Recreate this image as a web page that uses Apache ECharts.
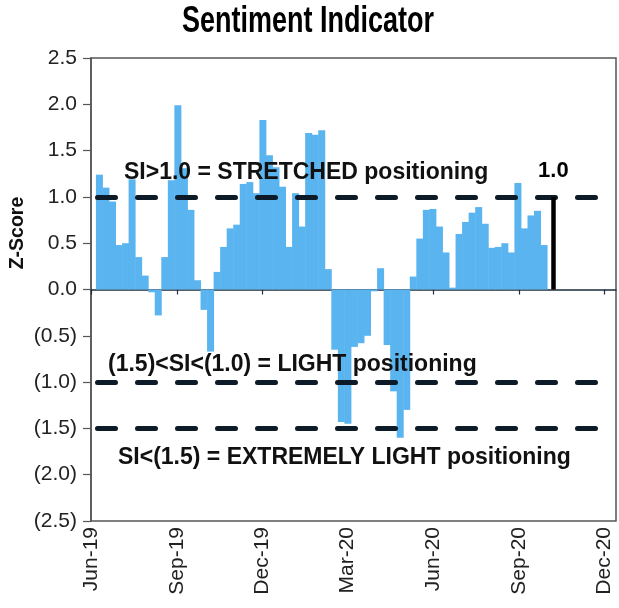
<!DOCTYPE html>
<html><head><meta charset="utf-8">
<script src="https://cdn.jsdelivr.net/npm/echarts@6/dist/echarts.min.js"></script>
<style>html,body{margin:0;padding:0;background:#fff}#c{width:619px;height:608px}</style>
</head><body><div id="c"></div>
<script>
// Weekly observation dates
const weekDates = [
  '2019-06-10','2019-06-17','2019-06-24','2019-07-01','2019-07-08','2019-07-15','2019-07-22','2019-07-29',
  '2019-08-05','2019-08-12','2019-08-19','2019-08-26','2019-09-02','2019-09-09','2019-09-16','2019-09-23',
  '2019-09-30','2019-10-07','2019-10-14','2019-10-21','2019-10-28','2019-11-04','2019-11-11','2019-11-18',
  '2019-11-25','2019-12-02','2019-12-09','2019-12-16','2019-12-23','2019-12-30','2020-01-06','2020-01-13',
  '2020-01-20','2020-01-27','2020-02-03','2020-02-10','2020-02-17','2020-02-24','2020-03-02','2020-03-09',
  '2020-03-16','2020-03-23','2020-03-30','2020-04-06','2020-04-13','2020-04-20','2020-04-27','2020-05-04',
  '2020-05-11','2020-05-18','2020-05-25','2020-06-01','2020-06-08','2020-06-15','2020-06-22','2020-06-29',
  '2020-07-06','2020-07-13','2020-07-20','2020-07-27','2020-08-03','2020-08-10','2020-08-17','2020-08-24',
  '2020-08-31','2020-09-07','2020-09-14','2020-09-21','2020-09-28'
];
// Sentiment indicator z-scores
const zScores = [
  1.24, 1.10, 0.95, 0.48, 0.50, 1.19, 0.35, 0.15,
  -0.03, -0.28, 0.35, 1.18, 1.99, 1.31, 0.86, 0.10,
  -0.22, -0.67, 0.19, 0.46, 0.66, 0.70, 1.14, 1.16,
  1.04, 1.83, 1.45, 1.32, 1.11, 0.46, 1.04, 0.68,
  1.69, 1.67, 1.72, 0.22, -0.65, -1.43, -1.45, -0.62,
  -0.58, -0.50, -0.02, 0.23, -0.60, -1.10, -1.60, -1.30,
  0.14, 0.55, 0.86, 0.87, 0.68, 0.40, 0.02, 0.60,
  0.73, 0.83, 0.89, 0.71, 0.45, 0.46, 0.50, 0.40,
  1.15, 0.66, 0.80, 0.85, 0.48
];
const tickDates = ['2019-06-01','2019-09-01','2019-12-01','2020-03-01','2020-06-01','2020-09-01','2020-12-01'];
const tickLabels = ['Jun-19','Sep-19','Dec-19','Mar-20','Jun-20','Sep-20','Dec-20'];
const xMin = '2019-06-01';
const xMax = '2020-12-14';
const thresholds = [1.0, -1.0, -1.5];
const latestDate = '2020-10-08';
const latestValue = 1.0;
const latestLabel = '1.0';
const bandNotes = ['SI>1.0 = STRETCHED positioning', '(1.5)<SI<(1.0) = LIGHT positioning', 'SI<(1.5) = EXTREMELY LIGHT positioning'];
const titleText = 'Sentiment Indicator';
const yName = 'Z-Score';

function parseLocal(s){ const p = s.split('-').map(Number); return Date.UTC(p[0], p[1]-1, p[2]); }
const tickTs = tickDates.map(parseLocal);
const seriesData = weekDates.map((d,i)=>[parseLocal(d), zScores[i]]);
const latestTs = parseLocal(latestDate);
const fmtY = v => { const a = Math.abs(v).toFixed(1); return v < -1e-9 ? '(' + a + ')' : a; };
const FONT = "'Liberation Sans', Arial, sans-serif";

const chart = echarts.init(document.getElementById('c'), null, {renderer:'canvas'});
chart.setOption({
  animation: false,
  backgroundColor: '#fff',
  grid: {left: 91, right: 3, top: 58, bottom: 87, show: true, borderColor: '#555', borderWidth: 1.5, outerBoundsMode: 'none', containLabel: false},
  xAxis: [{
    type: 'value', min: parseLocal(xMin), max: parseLocal(xMax), position: 'bottom',
    axisLine: {show: false, onZero: false},
    axisTick: {show: false},
    splitLine: {show: false},
    axisLabel: {
      customValues: tickTs, rotate: 90, margin: 6, fontSize: 21, color: '#222', fontFamily: FONT,
      formatter: v => tickLabels[tickTs.indexOf(v)] || ''
    }
  }, {
    type: 'value', min: parseLocal(xMin), max: parseLocal(xMax), position: 'bottom',
    axisLine: {show: true, onZero: true, lineStyle: {color: '#1d2b3c', width: 1.5}},
    axisTick: {show: true, customValues: tickTs, length: 5, inside: false, lineStyle: {color: '#1d2b3c', width: 1.2}},
    axisLabel: {show: false},
    splitLine: {show: false}
  }],
  yAxis: {
    type: 'value', min: -2.5, max: 2.5, interval: 0.5,
    axisLine: {show: true, onZero: false, lineStyle: {color: '#555', width: 1.5}},
    axisTick: {show: true, length: 8, lineStyle: {color: '#555', width: 1.2}},
    splitLine: {show: false},
    axisLabel: {fontSize: 21, color: '#222', margin: 14, fontFamily: FONT, formatter: fmtY}
  },
  series: [{
    type: 'bar', xAxisIndex: 0, yAxisIndex: 0, data: seriesData, barWidth: 7,
    itemStyle: {color: '#5AB4EF'},
    markLine: {
      silent: true, symbol: ['none','none'], animation: false,
      data: thresholds.map(v => ({
        yAxis: v,
        lineStyle: {color: '#0d1a28', width: 5, type: [18, 22], dashOffset: -6.5, cap: 'round'},
        label: {show: false}
      })).concat([[
        {coord: [latestTs, 0],
         lineStyle: {color: '#000', width: 4.5, type: 'solid', cap: 'butt'},
         label: {show: true, position: 'end', formatter: latestLabel, fontSize: 22, fontWeight: 'bold', color: '#000', fontFamily: FONT, distance: 15}},
        {coord: [latestTs, latestValue]}
      ]])
    }
  }],
  graphic: [
    {type: 'text', z: 20, x: 308, y: 4, scaleX: 0.75, style: {text: titleText, fontSize: 36, fontWeight: 'bold', fill: '#000', fontFamily: FONT, align: 'center', verticalAlign: 'top'}},
    {type: 'text', z: 20, left: 124, top: 161, style: {text: bandNotes[0], fontSize: 23, fontWeight: 'bold', fill: '#111', fontFamily: FONT}},
    {type: 'text', z: 20, left: 108, top: 353, style: {text: bandNotes[1], fontSize: 23, fontWeight: 'bold', fill: '#111', fontFamily: FONT}},
    {type: 'text', z: 20, left: 118, top: 446, style: {text: bandNotes[2], fontSize: 23, fontWeight: 'bold', fill: '#111', fontFamily: FONT}},
    {type: 'text', z: 20, x: 18, y: 233, rotation: Math.PI/2, style: {text: yName, fontSize: 19.5, fontWeight: 'bold', fill: '#111', fontFamily: FONT, align: 'center', verticalAlign: 'middle'}}
  ]
});
</script></body></html>
